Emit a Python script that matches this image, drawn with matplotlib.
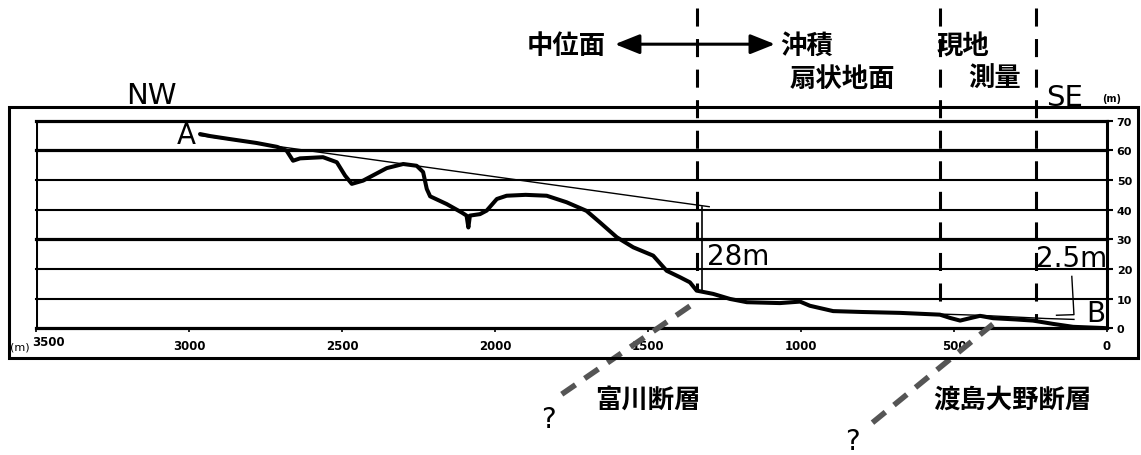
import matplotlib
matplotlib.use("Agg")
import matplotlib.pyplot as plt
import matplotlib.transforms as mtransforms
import numpy as np
from matplotlib.patches import Rectangle, FancyArrowPatch

plt.rcParams['lines.scale_dashes'] = False
CJK = ['Noto Sans CJK JP', 'DejaVu Sans']

W, H = 1141, 456

# Ground profile along the section line (distance from B in m, elevation in m)
profile_x = [2964, 2930, 2866, 2780, 2713, 2681, 2660, 2637, 2562, 2517, 2490,
             2468, 2431, 2354, 2300, 2256, 2235, 2223, 2212, 2158, 2108, 2093,
             2087, 2082, 2049, 2027, 1994, 1962, 1900, 1831, 1766, 1701, 1657,
             1602, 1548, 1483, 1439, 1395, 1363, 1341, 1287, 1232, 1177, 1069,
             1003, 971, 895, 800, 676, 546, 513, 480, 440, 415, 372, 300, 242,
             177, 111, 13, 0]
profile_z = [65.5, 64.8, 63.8, 62.5, 61.2, 59.9, 56.5, 57.3, 57.7, 56.0, 51.5,
             48.7, 49.8, 54.0, 55.4, 54.8, 52.7, 47.0, 44.5, 41.9, 39.0, 38.0,
             34.0, 38.0, 38.5, 39.7, 43.6, 44.7, 45.0, 44.7, 42.5, 39.6, 35.7,
             30.7, 27.3, 24.5, 19.4, 17.2, 15.5, 12.7, 11.6, 9.9, 8.8, 8.5,
             9.0, 7.6, 5.8, 5.5, 5.2, 4.6, 3.5, 2.6, 3.6, 4.2, 3.4, 3.0, 2.6,
             1.5, 0.5, 0.1, 0.0]

# Projected middle-terrace surface and its offset at the Tomikawa fault
terrace_x = [2964, 1300]
terrace_z = [65.0, 41.0]
offset_28_x = 1324
offset_28 = 28.0

# Surveyed older surface near SE end and its 2.5 m offset
survey_x = [546, 420, 300, 200, 108]
survey_z = [4.8, 4.4, 3.8, 3.3, 3.0]
offset_25 = 2.5

# Boundaries between landform units (m)
boundaries = [1340, 546, 232]

# Faults (x in m, z in m, extended below the section)
fault_tomikawa_x = [1363, 1804]
fault_tomikawa_z = [7.5, -23.8]
fault_oshima_x = [373, 784]
fault_oshima_z = [1.4, -33.3]

xticks = [3500, 3000, 2500, 2000, 1500, 1000, 500, 0]
xtick_labels = ['3500', '3000', '2500', '2000', '1500', '1000', '500', '0']
yticks = [0, 10, 20, 30, 40, 50, 60, 70]
ytick_labels = ['0', '10', '20', '30', '40', '50', '60', '70']
thick_levels = [0, 30, 60, 70]


def fpos(px, py):
    return px / W, 1 - py / H


fig = plt.figure(figsize=(W / 100, H / 100), dpi=100)
ax = fig.add_axes([36 / W, (H - 329.3) / H, 1071 / W, 207.6 / H])
ax.set_xlim(3500, 0)
ax.set_ylim(0, 70)

for s in ['top', 'left', 'bottom']:
    ax.spines[s].set_visible(False)
ax.spines['right'].set_linewidth(2.2)

# Horizontal elevation lines
for lv in yticks:
    ax.axhline(lv, color='black', lw=2.3 if lv in thick_levels else 1.5,
               zorder=1, clip_on=False)
ax.axvline(3500, color='black', lw=2.2, zorder=1)

ax.yaxis.tick_right()
ax.set_yticks(yticks)
ax.set_yticklabels(ytick_labels, fontsize=8, fontweight='bold')
ax.tick_params(axis='y', direction='out', length=4, width=1.5, pad=3)
ax.set_xticks(xticks)
ax.set_xticklabels(xtick_labels, fontsize=8.5, fontweight='bold')
ax.tick_params(axis='x', direction='out', length=3, width=1.2, pad=5)
first = ax.get_xticklabels()[0]
first.set_horizontalalignment('left')
first.set_transform(first.get_transform() +
                    mtransforms.ScaledTranslation(-4 / 100, 4 / 100, fig.dpi_scale_trans))

# Profile
ax.plot(profile_x, profile_z, color='black', lw=2.9, solid_capstyle='round',
        solid_joinstyle='round', zorder=5)
ax.plot(terrace_x, terrace_z, color='black', lw=1.0, zorder=4)
ax.plot([offset_28_x, offset_28_x], [terrace_z[-1], terrace_z[-1] - offset_28],
        color='black', lw=1.2, zorder=4)
ax.plot(survey_x, survey_z, color='black', lw=1.0, zorder=4)
ax.plot([115, survey_x[-1], 165],
        [17.5, survey_z[-1] + 1.6, survey_z[-1] + 1.4], color='black', lw=1.0,
        zorder=4, clip_on=False)

# Boundaries between units
px_sorted = np.array(profile_x[::-1])
pz_sorted = np.array(profile_z[::-1])
for b in boundaries:
    zb = np.interp(b, px_sorted, pz_sorted)
    ax.plot([b, b], [108, zb], color='black', lw=2.2, dashes=(13, 9),
            clip_on=False, zorder=3)

# Faults
for fx, fz in [(fault_tomikawa_x, fault_tomikawa_z), (fault_oshima_x, fault_oshima_z)]:
    ax.plot(fx, fz, color='#555555', lw=4.0, dashes=(12, 8),
            solid_capstyle='butt', dash_capstyle='butt', clip_on=False, zorder=6)

# Double arrow between units
arr = FancyArrowPatch((1608, 95.8), (1085, 95.8),
                      arrowstyle='<|-|>,head_length=0.75,head_width=0.3',
                      mutation_scale=20, color='black', lw=2.2,
                      clip_on=False, shrinkA=0, shrinkB=0)
ax.add_patch(arr)

# Outer frame
fig.patches.append(Rectangle(fpos(9, 359), 1129 / W, 251 / H, fill=False,
                             lw=2.2, edgecolor='black', transform=fig.transFigure))

# Labels
def ftext(px, py, s, **kw):
    fig.text(*fpos(px, py), s, **kw)

cjk_kw = dict(family=CJK, fontsize=19, fontweight='bold', va='center')
ftext(566, 46, '中位面', ha='center', **cjk_kw)
ftext(780, 46, '沖積', ha='left', **cjk_kw)
ftext(790, 79, '扇状地面', ha='left', **cjk_kw)
ftext(937, 46, '現地', ha='left', **cjk_kw)
ftext(968, 79, '測量', ha='left', **cjk_kw)
ftext(648, 400, '富川断層', ha='center', **cjk_kw)
ftext(1012, 400, '渡島大野断層', ha='center', **cjk_kw)

ftext(151, 96, 'NW', ha='center', va='center', fontsize=21)
ftext(1065, 98, 'SE', ha='center', va='center', fontsize=21)
ftext(1112, 99, '(m)', ha='center', va='center', fontsize=7, fontweight='bold')
ftext(20, 348, '(m)', ha='center', va='center', fontsize=8)
ftext(186, 136, 'A', ha='center', va='center', fontsize=20)
ftext(1096, 314, 'B', ha='center', va='center', fontsize=20)
ftext(707, 257, f'{offset_28:.0f}m', ha='left', va='center', fontsize=20)
ftext(1036, 259, f'{offset_25:.1f}m', ha='left', va='center', fontsize=20)
ftext(548, 420, '?', ha='center', va='center', fontsize=20)
ftext(852, 442, '?', ha='center', va='center', fontsize=20)

fig.savefig('out.png', dpi=100)
